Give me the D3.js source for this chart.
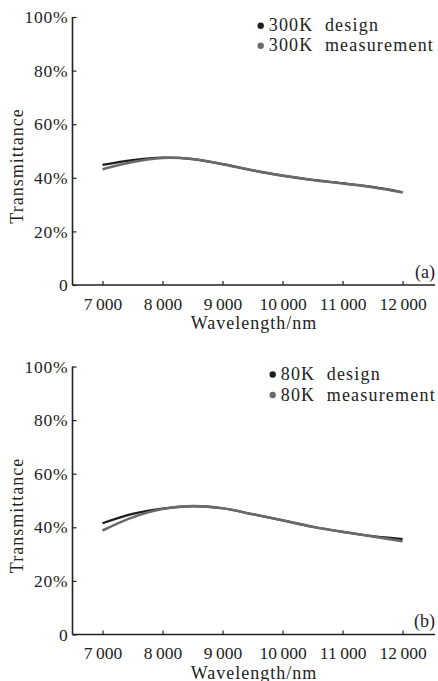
<!DOCTYPE html>
<html><head><meta charset="utf-8">
<script src="https://cdn.jsdelivr.net/npm/d3@7"></script>
<style>
html,body{margin:0;padding:0;background:#fff;}
svg text{font-family:"Liberation Serif","Times New Roman",Times,"DejaVu Serif",serif !important;fill:#222;}
</style></head>
<body>
<svg id="c" width="438" height="681" font-family="Liberation Serif, Times New Roman, serif"></svg>
<script>
const wavelengths = [7000, 7500, 8000, 8500, 9000, 9500, 10000, 10500, 11000, 11500, 12000];
const design300 = [44.8, 46.6, 47.5, 47.0, 45.1, 42.8, 40.8, 39.2, 38.0, 36.6, 34.6];
const meas300   = [43.2, 45.9, 47.4, 47.0, 45.1, 42.8, 40.8, 39.2, 37.9, 36.5, 34.5];
const design80  = [41.5, 45.0, 47.0, 47.9, 47.1, 44.9, 42.6, 40.2, 38.3, 36.7, 35.6];
const meas80    = [38.8, 43.7, 46.8, 47.9, 47.1, 44.9, 42.6, 40.2, 38.3, 36.6, 34.8];
const xTicks = [7000, 8000, 9000, 10000, 11000, 12000];
const yTicks = [0, 20, 40, 60, 80, 100];
const panels = [
  {label:"(a)", legend:["300K  design","300K  measurement"], design:design300, meas:meas300},
  {label:"(b)", legend:["80K  design","80K  measurement"], design:design80, meas:meas80}
];
const layout = [
  {top:17, bottom:285, legX:260.7, legY:[25.7,45.7], labY:278},
  {top:366.5, bottom:634.5, legX:272.7, legY:[374.5,395], labY:627}
];
const FONT = '"Liberation Serif","Times New Roman",Times,serif';
const svg = d3.select("#c");
const x = d3.scaleLinear().domain([6500, 12540]).range([72.5, 435]);
const fmtX = d => { const s = String(d); return s.slice(0, s.length-3) + "\u2009" + s.slice(-3); };
const colDesign = "#1c1c1c", colMeas = "#6a6a6a";

panels.forEach((p, i) => {
  const L = layout[i];
  const y = d3.scaleLinear().domain([0, 100]).range([L.bottom, L.top]);
  const g = svg.append("g");
  const xa = g.append("g").attr("transform", `translate(0,${L.bottom})`)
    .call(d3.axisBottom(x).tickValues(xTicks).tickSize(-4).tickPadding(8).tickFormat(fmtX));
  xa.attr("font-family", FONT);
  xa.select(".domain").attr("stroke", "#222").attr("stroke-width", 1.6).attr("d", `M${x(6500)},0H${x(12540)}`);
  xa.selectAll(".tick line").attr("stroke", "#222").attr("stroke-width", 1.2);
  xa.selectAll(".tick text").attr("font-size", 17.5).attr("fill", "#222").attr("dy", "0.95em");
  const ya = g.append("g").attr("transform", `translate(${x(6500)},0)`)
    .call(d3.axisLeft(y).tickValues(yTicks).tickSize(-4).tickPadding(4).tickFormat(d => d === 0 ? "0" : d + "%"));
  ya.attr("font-family", FONT);
  ya.select(".domain").attr("stroke", "#222").attr("stroke-width", 1.6).attr("d", `M0,${L.top}V${L.bottom}`);
  ya.selectAll(".tick line").attr("stroke", "#222").attr("stroke-width", 1.2);
  ya.selectAll(".tick text").attr("font-size", 17.5).attr("fill", "#222").attr("letter-spacing", "0.8px");
  g.append("text").attr("transform", `translate(23,${(L.top+L.bottom)/2 + 15}) rotate(-90)`)
    .attr("text-anchor", "middle").attr("font-size", 18).attr("letter-spacing", "1px").text("Transmittance");
  g.append("text").attr("x", 254).attr("y", L.bottom + 44).attr("text-anchor", "middle")
    .attr("font-size", 18).attr("letter-spacing", "1px").text("Wavelength/nm");
  g.append("text").attr("x", 435).attr("y", L.labY).attr("text-anchor", "end")
    .attr("font-size", 18).text(p.label);
  const line = d3.line().x((d, j) => x(wavelengths[j])).y(d => y(d)).curve(d3.curveCatmullRom.alpha(0.5));
  g.append("path").attr("d", line(p.design)).attr("fill", "none").attr("stroke", colDesign).attr("stroke-width", 2.2);
  g.append("path").attr("d", line(p.meas)).attr("fill", "none").attr("stroke", colMeas).attr("stroke-width", 2.6);
  [colDesign, colMeas].forEach((c, k) => {
    g.append("circle").attr("cx", L.legX).attr("cy", L.legY[k]).attr("r", 3.2).attr("fill", c);
    g.append("text").attr("x", L.legX + 8).attr("y", L.legY[k] + 5.5).attr("font-size", 18)
      .attr("letter-spacing", "1.2px").style("white-space", "pre").text(p.legend[k]);
  });
});
</script>
</body></html>
